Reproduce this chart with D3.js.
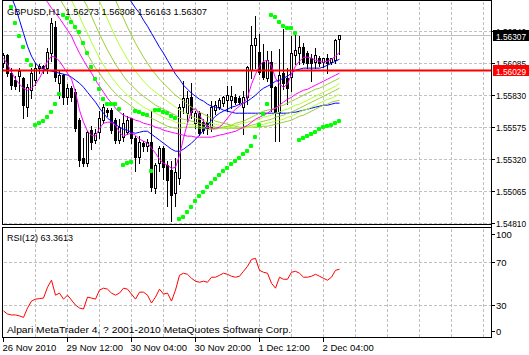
<!DOCTYPE html>
<html>
<head>
<meta charset="utf-8">
<script src="https://cdn.jsdelivr.net/npm/d3@7"></script>
<style>
	body { margin: 0; background: #fff; }
	svg { display: block; font-family: "Liberation Sans", Arial, sans-serif; font-size: 9.5px; }
	.grid { stroke: #c0c0c0; stroke-dasharray: 3,2; shape-rendering: crispEdges; }
	.frame { fill: none; stroke: #000; shape-rendering: crispEdges; }
	.ma { fill: none; stroke-width: 1; }
</style>
</head>
<body>
<div id="chart"></div>
<script>
(function () {'use strict';

var symbol = 'GBPUSD,H1';
var lastOHLC = [1.56273, 1.56308, 1.56163, 1.56307];
var bidPrice = 1.56307;
var levelPrice = 1.56029;
var rsiCaption = 'RSI(12) 63.3613';
var copyright = 'Alpari MetaTrader 4, ? 2001-2010 MetaQuotes Software Corp.';

var timeLabels = ['26 Nov 2010', '29 Nov 12:00', '30 Nov 04:00', '30 Nov 20:00', '1 Dec 12:00', '2 Dec 04:00'];
var priceTicks = [1.56340, 1.56085, 1.55830, 1.55575, 1.55320, 1.55065, 1.54810];
var rsiTicks = [100, 70, 30, 0];
var rsiLevels = [70, 30];

var opens = [1.56087, 1.56151, 1.56008, 1.55952, 1.55984, 1.55968, 1.55737, 1.55872, 1.55952, 1.56048,
	1.56064, 1.56048, 1.56167, 1.56374, 1.55928, 1.55992, 1.55817, 1.55888, 1.55856, 1.55633,
	1.55330, 1.55290, 1.55553, 1.55474, 1.55538, 1.55633, 1.55713, 1.55713, 1.55633, 1.55474,
	1.55498, 1.55538, 1.55649, 1.55490, 1.55338, 1.55450, 1.55426, 1.55458, 1.55091, 1.55290,
	1.55410, 1.55275, 1.55235, 1.55051, 1.55171, 1.55737, 1.55689, 1.55817, 1.55609, 1.55689,
	1.55617, 1.55617, 1.55577, 1.55713, 1.55737, 1.55769, 1.55793, 1.55793, 1.55817, 1.55808,
	1.55737, 1.55817, 1.56032, 1.56231, 1.56175, 1.56095, 1.55968, 1.56095, 1.55896, 1.55697,
	1.56008, 1.55968, 1.55976, 1.56151, 1.56167, 1.56215, 1.56167, 1.56127, 1.56095, 1.56127,
	1.56095, 1.56127, 1.56095, 1.56111, 1.56273];
var highs = [1.56175, 1.56167, 1.56056, 1.55992, 1.56056, 1.55984, 1.55928, 1.56056, 1.56095, 1.56087,
	1.56080, 1.56215, 1.56454, 1.56430, 1.56032, 1.56008, 1.55928, 1.55912, 1.55888, 1.55657,
	1.55498, 1.55553, 1.55593, 1.55569, 1.55713, 1.55769, 1.55737, 1.55737, 1.55657, 1.55649,
	1.55697, 1.55673, 1.55657, 1.55514, 1.55514, 1.55474, 1.55490, 1.55713, 1.55298, 1.55434,
	1.55434, 1.55314, 1.55314, 1.55338, 1.55769, 1.55952, 1.55872, 1.55936, 1.55713, 1.55713,
	1.55649, 1.55689, 1.55793, 1.55793, 1.55817, 1.55832, 1.55912, 1.55912, 1.55848, 1.55832,
	1.55872, 1.56072, 1.56390, 1.56470, 1.56326, 1.56247, 1.56191, 1.56191, 1.55912, 1.56207,
	1.56366, 1.56056, 1.56311, 1.56326, 1.56311, 1.56255, 1.56191, 1.56167, 1.56215, 1.56151,
	1.56135, 1.56167, 1.56135, 1.56287, 1.56308];
var lows = [1.56064, 1.55992, 1.55888, 1.55888, 1.55872, 1.55657, 1.55673, 1.55817, 1.55920, 1.56016,
	1.56016, 1.56016, 1.56111, 1.55952, 1.55817, 1.55769, 1.55769, 1.55793, 1.55553, 1.55275,
	1.55275, 1.55275, 1.55410, 1.55458, 1.55498, 1.55617, 1.55673, 1.55538, 1.55458, 1.55458,
	1.55474, 1.55530, 1.55458, 1.55235, 1.55298, 1.55394, 1.55394, 1.55075, 1.55059, 1.55235,
	1.55171, 1.54956, 1.54836, 1.54956, 1.55131, 1.55697, 1.55633, 1.55657, 1.55577, 1.55522,
	1.55538, 1.55530, 1.55553, 1.55689, 1.55729, 1.55753, 1.55713, 1.55737, 1.55769, 1.55769,
	1.55530, 1.55769, 1.55976, 1.56056, 1.56008, 1.55968, 1.55952, 1.55713, 1.55474, 1.55474,
	1.55888, 1.55769, 1.55872, 1.56087, 1.56087, 1.56087, 1.56056, 1.55952, 1.56056, 1.56072,
	1.56064, 1.56016, 1.56087, 1.56095, 1.56163];
var closes = [1.56151, 1.56008, 1.55912, 1.55904, 1.56024, 1.55753, 1.55896, 1.56008, 1.56048, 1.56064,
	1.56048, 1.56175, 1.56406, 1.55976, 1.55992, 1.55817, 1.55888, 1.55817, 1.55569, 1.55314,
	1.55290, 1.55538, 1.55458, 1.55530, 1.55649, 1.55737, 1.55697, 1.55553, 1.55474, 1.55577,
	1.55609, 1.55633, 1.55490, 1.55338, 1.55458, 1.55426, 1.55458, 1.55099, 1.55275, 1.55410,
	1.55259, 1.55155, 1.55035, 1.55219, 1.55737, 1.55808, 1.55808, 1.55697, 1.55689, 1.55530,
	1.55553, 1.55569, 1.55737, 1.55753, 1.55793, 1.55817, 1.55832, 1.55824, 1.55777, 1.55777,
	1.55817, 1.56056, 1.56231, 1.56287, 1.56016, 1.55976, 1.56111, 1.55896, 1.55697, 1.55992,
	1.55928, 1.55888, 1.56167, 1.56191, 1.56215, 1.56095, 1.56087, 1.56087, 1.56151, 1.56087,
	1.56127, 1.56087, 1.56127, 1.56271, 1.56307];

// Parabolic SAR, null where the dot is off the window
var sar = [null, null, 1.56534, 1.56406, 1.56303, 1.56215, 1.56111, 1.56072, 1.55593, 1.55609,
	1.55625, 1.55657, 1.55697, 1.55761, 1.55840, 1.56470, 1.56446, 1.56414, 1.56374, 1.56335,
	1.56247, 1.56167, 1.56056, 1.55960, 1.55880, 1.55801, 1.55761, 1.55761, 1.55761, 1.55721,
	1.55275, 1.55290, 1.55298, 1.55705, 1.55697, 1.55681, 1.55673, 1.55227, 1.55713, 1.55713,
	1.55697, 1.55689, 1.55665, 1.55649, 1.54844, 1.54860, 1.54900, 1.54940, 1.54988, 1.55027,
	1.55059, 1.55099, 1.55131, 1.55163, 1.55195, 1.55227, 1.55251, 1.55283, 1.55306, 1.55330,
	1.55362, 1.55386, 1.55426, 1.55498, 1.55593, 1.55681, 1.55761, 1.56470, 1.56454, 1.56414,
	1.56382, 1.56366, 1.56366, 1.56326, 1.55474, 1.55490, 1.55506, 1.55522, 1.55538, 1.55561,
	1.55577, 1.55585, 1.55593, 1.55609, 1.55625];

var rsi = [24.5, 21.7, 20.8, 20.8, 19.9, 18.5, 27.2, 33.7, 35.5, 36,
	36.5, 46.6, 53.1, 39.2, 41.1, 35.5, 39.2, 34.6, 30, 27.2,
	26.3, 37.4, 36.5, 35.5, 43.9, 45.7, 44.8, 41.1, 39.2, 41.1,
	45.7, 44.8, 40.2, 35.5, 42, 42, 39.2, 31.9, 37.4, 44.8,
	40.2, 41.1, 33.7, 43.9, 57.7, 59.6, 58.6, 54.9, 52.2, 51.2,
	52.2, 51.2, 55.9, 55.9, 57.7, 59.6, 58.6, 56.8, 55.9, 56.8,
	61.4, 66, 72.5, 73.4, 62.3, 60.5, 59.6, 50.3, 45.7, 55.9,
	54, 54, 60.5, 61.4, 59.6, 55.9, 55.9, 56.8, 58.6, 56.8,
	54.9, 53.1, 55.9, 62.3, 63.36];

// moving averages; each list starts at the bar given by its first argument
var maMagentaFast = after(0, [1.56127, 1.56079, 1.56016, 1.55960, 1.55920, 1.55888, 1.55872, 1.55888, 1.55920, 1.55968,
	1.56032, 1.56103, 1.56143, 1.56135, 1.56103, 1.56056, 1.56008, 1.55960, 1.55856, 1.55713,
	1.55617, 1.55545, 1.55514, 1.55506, 1.55569, 1.55609, 1.55617, 1.55617, 1.55593, 1.55537,
	1.55506, 1.55521, 1.55529, 1.55514, 1.55482, 1.55466, 1.55450, 1.55410, 1.55370, 1.55322,
	1.55290, 1.55274, 1.55250, 1.55258, 1.55354, 1.55490, 1.55609, 1.55705, 1.55729, 1.55673,
	1.55625, 1.55577, 1.55569, 1.55569, 1.55577, 1.55609, 1.55649, 1.55689, 1.55721, 1.55745,
	1.55769, 1.55816, 1.55920, 1.56000, 1.56064, 1.56103, 1.56111, 1.56064, 1.55968, 1.55920,
	1.55896, 1.55920, 1.56000, 1.56064, 1.56103, 1.56135, 1.56135, 1.56127, 1.56111, 1.56103,
	1.56095, 1.56103, 1.56119, 1.56143, 1.56175]);
var maMagentaSlow = after(10, [1.56613, 1.56574, 1.56526, 1.56486, 1.56446, 1.56398, 1.56350, 1.56303, 1.56231, 1.56167,
	1.56111, 1.56056, 1.56008, 1.55952, 1.55904, 1.55856, 1.55808, 1.55769, 1.55729, 1.55697,
	1.55673, 1.55657, 1.55649, 1.55633, 1.55625, 1.55609, 1.55601, 1.55593, 1.55577, 1.55569,
	1.55553, 1.55545, 1.55537, 1.55529, 1.55521, 1.55514, 1.55506, 1.55506, 1.55498, 1.55498,
	1.55498, 1.55498, 1.55498, 1.55506, 1.55514, 1.55521, 1.55529, 1.55537, 1.55545, 1.55561,
	1.55577, 1.55593, 1.55617, 1.55641, 1.55657, 1.55673, 1.55689, 1.55713, 1.55729, 1.55753,
	1.55777, 1.55800, 1.55816, 1.55840, 1.55856, 1.55872, 1.55880, 1.55896, 1.55912, 1.55928,
	1.55944, 1.55960, 1.55976, 1.55992, 1.56008]);
var maBlueFast = after(2, [1.56613, 1.56534, 1.56430, 1.56326, 1.56223, 1.56143, 1.56087, 1.56056,
	1.56040, 1.56032, 1.56024, 1.56016, 1.56008, 1.56000, 1.55992, 1.55976, 1.55952, 1.55928,
	1.55896, 1.55856, 1.55816, 1.55777, 1.55729, 1.55689, 1.55649, 1.55625, 1.55601, 1.55577,
	1.55561, 1.55553, 1.55537, 1.55529, 1.55537, 1.55545, 1.55545, 1.55521, 1.55498, 1.55474,
	1.55450, 1.55426, 1.55402, 1.55386, 1.55386, 1.55402, 1.55426, 1.55450, 1.55482, 1.55514,
	1.55553, 1.55593, 1.55633, 1.55665, 1.55689, 1.55705, 1.55721, 1.55737, 1.55745, 1.55761,
	1.55769, 1.55785, 1.55808, 1.55832, 1.55864, 1.55888, 1.55904, 1.55920, 1.55944, 1.55952,
	1.55968, 1.55984, 1.56008, 1.56032, 1.56040, 1.56048, 1.56048, 1.56048, 1.56048, 1.56048,
	1.56056, 1.56072, 1.56087, 1.56103, 1.56119]);
var maBlueSlow = after(31, [1.56621, 1.56574, 1.56526, 1.56486, 1.56430, 1.56382, 1.56326, 1.56271, 1.56215,
	1.56167, 1.56111, 1.56056, 1.56000, 1.55960, 1.55912, 1.55880, 1.55848, 1.55824, 1.55800,
	1.55785, 1.55761, 1.55745, 1.55737, 1.55729, 1.55713, 1.55705, 1.55697, 1.55689, 1.55689,
	1.55689, 1.55689, 1.55689, 1.55689, 1.55689, 1.55689, 1.55689, 1.55689, 1.55689, 1.55689,
	1.55689, 1.55689, 1.55697, 1.55697, 1.55705, 1.55713, 1.55721, 1.55729, 1.55737, 1.55745,
	1.55753, 1.55753, 1.55761, 1.55769, 1.55769]);
var maGreen1 = after(14, [1.56605, 1.56550, 1.56494, 1.56430, 1.56366, 1.56303,
	1.56231, 1.56159, 1.56103, 1.56048, 1.56008, 1.55960, 1.55920, 1.55880, 1.55848, 1.55816,
	1.55792, 1.55769, 1.55745, 1.55721, 1.55705, 1.55689, 1.55665, 1.55649, 1.55633, 1.55617,
	1.55601, 1.55585, 1.55577, 1.55569, 1.55569, 1.55577, 1.55577, 1.55577, 1.55577, 1.55569,
	1.55569, 1.55561, 1.55561, 1.55561, 1.55569, 1.55577, 1.55585, 1.55593, 1.55609, 1.55617,
	1.55625, 1.55641, 1.55657, 1.55673, 1.55689, 1.55705, 1.55713, 1.55721, 1.55729, 1.55745,
	1.55753, 1.55769, 1.55785, 1.55800, 1.55816, 1.55832, 1.55848, 1.55864, 1.55880, 1.55888,
	1.55904, 1.55920, 1.55936, 1.55952, 1.55968]);
var maGreen2 = after(17, [1.56589, 1.56526, 1.56462,
	1.56390, 1.56326, 1.56255, 1.56191, 1.56127, 1.56072, 1.56024, 1.55976, 1.55936, 1.55896,
	1.55864, 1.55832, 1.55808, 1.55785, 1.55761, 1.55737, 1.55721, 1.55705, 1.55689, 1.55673,
	1.55657, 1.55641, 1.55633, 1.55617, 1.55609, 1.55609, 1.55601, 1.55601, 1.55593, 1.55585,
	1.55577, 1.55577, 1.55569, 1.55569, 1.55569, 1.55569, 1.55577, 1.55585, 1.55593, 1.55601,
	1.55609, 1.55617, 1.55625, 1.55633, 1.55641, 1.55657, 1.55665, 1.55673, 1.55689, 1.55697,
	1.55713, 1.55721, 1.55737, 1.55753, 1.55761, 1.55777, 1.55792, 1.55808, 1.55824, 1.55840,
	1.55856, 1.55872, 1.55888, 1.55904, 1.55928]);
var maGreen3 = after(20, [1.56597, 1.56534, 1.56462, 1.56390, 1.56319, 1.56255, 1.56191, 1.56135, 1.56079, 1.56032,
	1.55984, 1.55944, 1.55912, 1.55880, 1.55848, 1.55824, 1.55800, 1.55777, 1.55753, 1.55737,
	1.55721, 1.55705, 1.55689, 1.55673, 1.55649, 1.55641, 1.55633, 1.55625, 1.55617, 1.55609,
	1.55601, 1.55593, 1.55585, 1.55577, 1.55577, 1.55569, 1.55569, 1.55569, 1.55569, 1.55569,
	1.55577, 1.55585, 1.55593, 1.55601, 1.55617, 1.55625, 1.55633, 1.55641, 1.55657, 1.55665,
	1.55673, 1.55689, 1.55697, 1.55713, 1.55729, 1.55745, 1.55761, 1.55777, 1.55792, 1.55808,
	1.55824, 1.55840, 1.55856, 1.55872, 1.55888]);
var maGreen4 = after(23, [1.56629, 1.56582, 1.56510, 1.56438, 1.56366, 1.56295, 1.56231,
	1.56175, 1.56119, 1.56072, 1.56024, 1.55984, 1.55944, 1.55912, 1.55880, 1.55856, 1.55832,
	1.55808, 1.55785, 1.55761, 1.55737, 1.55713, 1.55697, 1.55681, 1.55665, 1.55649, 1.55641,
	1.55633, 1.55617, 1.55609, 1.55601, 1.55593, 1.55585, 1.55577, 1.55577, 1.55569, 1.55569,
	1.55569, 1.55577, 1.55577, 1.55585, 1.55593, 1.55601, 1.55609, 1.55617, 1.55625, 1.55633,
	1.55641, 1.55657, 1.55665, 1.55681, 1.55697, 1.55713, 1.55721, 1.55737, 1.55753, 1.55769,
	1.55785, 1.55800, 1.55808, 1.55824, 1.55840]);
var maGreen5 = after(27, [1.56637, 1.56589, 1.56518,
	1.56446, 1.56374, 1.56311, 1.56247, 1.56191, 1.56135, 1.56087, 1.56040, 1.56000, 1.55960,
	1.55928, 1.55896, 1.55864, 1.55832, 1.55808, 1.55785, 1.55761, 1.55737, 1.55713, 1.55697,
	1.55681, 1.55665, 1.55649, 1.55625, 1.55617, 1.55609, 1.55601, 1.55593, 1.55585, 1.55577,
	1.55577, 1.55577, 1.55577, 1.55577, 1.55577, 1.55585, 1.55585, 1.55593, 1.55601, 1.55609,
	1.55617, 1.55625, 1.55633, 1.55649, 1.55665, 1.55673, 1.55689, 1.55705, 1.55721, 1.55737,
	1.55753, 1.55761, 1.55777, 1.55785, 1.55792]);

function after(start, values) {
	var out = [];
	for (var k = 0; k < start; k++) out.push(null);
	return out.concat(values);
}

var width = 529, height = 355,
	main = { left: 2.5, right: 491.5, top: 0.5, bottom: 224.5 },
	sub = { top: 227.5, bottom: 337.5 },
	barsInView = 122,
	labelEvery = 16,
	gridEvery = 8;

var x = d3.scaleLinear().domain([0, barsInView]).range([3.5, 491.5]),
	y = d3.scaleLinear().domain([1.54810, 1.56340]).range([223.5, 31.5]),
	yr = d3.scaleLinear().domain([0, 100]).range([337.3, 229.8]);

function crisp(v) { return Math.round(v - 0.5) + 0.5; }

var svg = d3.select('#chart')
	.append('svg')
		.attr('width', width)
		.attr('height', height);

svg.append('rect').attr('width', width).attr('height', height).attr('fill', '#fff');

var defs = svg.append('defs');
defs.append('clipPath').attr('id', 'clipMain')
	.append('rect')
		.attr('x', main.left + 0.5).attr('y', main.top + 0.5)
		.attr('width', main.right - main.left - 1).attr('height', main.bottom - main.top - 1);
defs.append('clipPath').attr('id', 'clipSub')
	.append('rect')
		.attr('x', main.left + 0.5).attr('y', sub.top + 0.5)
		.attr('width', main.right - main.left - 1).attr('height', sub.bottom - sub.top - 1);

/* GRID */
var gridCols = d3.range(gridEvery, barsInView + 1, gridEvery).filter(function (i) { return x(i) < main.right - 2; });

svg.append('g').selectAll('line')
	.data(gridCols)
	.enter().append('line')
		.attr('class', 'grid')
		.attr('x1', function (i) { return x(i); }).attr('x2', function (i) { return x(i); })
		.attr('y1', main.top + 1).attr('y2', main.bottom - 1);

svg.append('g').selectAll('line')
	.data(gridCols)
	.enter().append('line')
		.attr('class', 'grid')
		.attr('x1', function (i) { return x(i); }).attr('x2', function (i) { return x(i); })
		.attr('y1', sub.top + 1).attr('y2', sub.bottom - 1);

svg.append('g').selectAll('line')
	.data(priceTicks)
	.enter().append('line')
		.attr('class', 'grid')
		.attr('x1', main.left + 1).attr('x2', main.right - 1)
		.attr('y1', function (p) { return crisp(y(p)); })
		.attr('y2', function (p) { return crisp(y(p)); });

svg.append('g').selectAll('line')
	.data(rsiLevels)
	.enter().append('line')
		.attr('class', 'grid')
		.attr('x1', main.left + 1).attr('x2', main.right - 1)
		.attr('y1', function (v) { return crisp(yr(v)); })
		.attr('y2', function (v) { return crisp(yr(v)); });

var plot = svg.append('g').attr('clip-path', 'url(#clipMain)');

// bid line
plot.append('line')
	.attr('x1', main.left).attr('x2', main.right)
	.attr('y1', crisp(y(bidPrice))).attr('y2', crisp(y(bidPrice)))
	.attr('stroke', '#c0c0c0')
	.attr('shape-rendering', 'crispEdges');

/* CANDLES */
var bars = d3.range(opens.length);
var candle = plot.append('g').attr('shape-rendering', 'crispEdges')
	.selectAll('g')
	.data(bars)
	.enter().append('g');

candle.append('line')
	.attr('x1', function (i) { return x(i); })
	.attr('x2', function (i) { return x(i); })
	.attr('y1', function (i) { return crisp(y(highs[i])); })
	.attr('y2', function (i) { return crisp(y(lows[i])) + 1; })
	.attr('stroke', '#000');

candle.append('rect')
	.attr('x', function (i) { return x(i) - 1; })
	.attr('width', 2)
	.attr('y', function (i) { return crisp(y(Math.max(opens[i], closes[i]))); })
	.attr('height', function (i) {
		return crisp(y(Math.min(opens[i], closes[i]))) - crisp(y(Math.max(opens[i], closes[i])));
	})
	.attr('fill', function (i) { return closes[i] >= opens[i] ? '#fff' : '#000'; })
	.attr('stroke', '#000');

/* MOVING AVERAGES */
var maLines = [
	{ values: maBlueSlow, color: '#0000ff' },
	{ values: maGreen5, color: '#9acd32' },
	{ values: maGreen4, color: '#adff2f' },
	{ values: maGreen3, color: '#9acd32' },
	{ values: maGreen2, color: '#adff2f' },
	{ values: maGreen1, color: '#9acd32' },
	{ values: maBlueFast, color: '#0000ff' },
	{ values: maMagentaSlow, color: '#ff00ff' },
	{ values: maMagentaFast, color: '#ff00ff' }
];

var maPath = d3.line()
	.defined(function (d) { return d !== null; })
	.x(function (d, i) { return x(i); })
	.y(function (d) { return y(d); });

plot.append('g').selectAll('path')
	.data(maLines)
	.enter().append('path')
		.attr('class', 'ma')
		.attr('stroke', function (d) { return d.color; })
		.attr('d', function (d) { return maPath(d.values); });

/* PARABOLIC SAR */
plot.append('g').selectAll('rect')
	.data(bars.filter(function (i) { return sar[i] !== null; }))
	.enter().append('rect')
		.attr('x', function (i) { return x(i) - 2.5; })
		.attr('y', function (i) { return Math.round(y(sar[i])) - 2; })
		.attr('width', 4).attr('height', 4)
		.attr('rx', 1)
		.attr('fill', '#00ff00');

// horizontal level
plot.append('line')
	.attr('x1', main.left).attr('x2', main.right)
	.attr('y1', y(levelPrice)).attr('y2', y(levelPrice))
	.attr('stroke', '#ff0000')
	.attr('stroke-width', 2);

/* RSI */
svg.append('g').attr('clip-path', 'url(#clipSub)')
	.append('path')
		.attr('fill', 'none')
		.attr('stroke', '#ff0000')
		.attr('d', d3.line()
			.x(function (d, i) { return x(i); })
			.y(function (d) { return yr(d); })(rsi));

/* FRAMES AND AXES */
svg.append('rect').attr('class', 'frame')
	.attr('x', main.left).attr('y', main.top)
	.attr('width', main.right - main.left).attr('height', main.bottom - main.top);
svg.append('rect').attr('class', 'frame')
	.attr('x', main.left).attr('y', sub.top)
	.attr('width', main.right - main.left).attr('height', sub.bottom - sub.top);
svg.append('line').attr('class', 'frame')
	.attr('x1', main.right).attr('x2', main.right)
	.attr('y1', 0).attr('y2', sub.bottom);

// price axis
var priceAxis = svg.append('g');
priceAxis.selectAll('line')
	.data(priceTicks)
	.enter().append('line').attr('class', 'frame')
		.attr('x1', main.right).attr('x2', main.right + 3)
		.attr('y1', function (p) { return crisp(y(p)); })
		.attr('y2', function (p) { return crisp(y(p)); });
priceAxis.selectAll('text')
	.data(priceTicks)
	.enter().append('text')
		.attr('x', 496)
		.attr('y', function (p) { return y(p) + 3.5; })
		.attr('textLength', 30)
		.attr('lengthAdjust', 'spacingAndGlyphs')
		.text(function (p) { return p.toFixed(5); });

// current price and level boxes
function priceBox(price, fill) {
	var cy = Math.round(y(price));
	svg.append('rect')
		.attr('x', 493).attr('y', cy - 6)
		.attr('width', 36).attr('height', 11)
		.attr('fill', fill);
	svg.append('text')
		.attr('x', 496).attr('y', cy + 3.5)
		.attr('fill', '#fff')
		.attr('textLength', 30)
		.attr('lengthAdjust', 'spacingAndGlyphs')
		.text(price.toFixed(5));
}
priceBox(bidPrice, '#000');
priceBox(levelPrice, '#ff0000');

// rsi axis
var rsiLabelY = function (v) {
	return Math.min(Math.max(yr(v), sub.top + 6.5), sub.bottom - 6.5);
};
var rsiAxis = svg.append('g');
rsiAxis.selectAll('line')
	.data(rsiTicks)
	.enter().append('line').attr('class', 'frame')
		.attr('x1', main.right).attr('x2', main.right + 3)
		.attr('y1', function (v) { return crisp(rsiLabelY(v)); })
		.attr('y2', function (v) { return crisp(rsiLabelY(v)); });
rsiAxis.selectAll('text')
	.data(rsiTicks)
	.enter().append('text')
		.attr('x', 496)
		.attr('y', function (v) { return rsiLabelY(v) + 3.5; })
		.text(function (v) { return v; });

// time axis
var timeAxis = svg.append('g');
timeAxis.selectAll('line')
	.data(timeLabels)
	.enter().append('line').attr('class', 'frame')
		.attr('x1', function (d, k) { return x(k * labelEvery); })
		.attr('x2', function (d, k) { return x(k * labelEvery); })
		.attr('y1', sub.bottom).attr('y2', sub.bottom + 4);
timeAxis.selectAll('text')
	.data(timeLabels)
	.enter().append('text')
		.attr('x', function (d, k) { return x(k * labelEvery) - 1; })
		.attr('y', 351)
		.text(function (d) { return d; });

/* TEXTS */
svg.append('text')
	.attr('x', 7).attr('y', 15)
	.attr('xml:space', 'preserve')
	.attr('textLength', 200)
	.attr('lengthAdjust', 'spacingAndGlyphs')
	.text(symbol + '  ' + lastOHLC.map(function (v) { return v.toFixed(5); }).join(' '));
svg.append('text')
	.attr('x', 7).attr('y', 241)
	.attr('textLength', 66)
	.attr('lengthAdjust', 'spacingAndGlyphs')
	.text(rsiCaption);
svg.append('text')
	.attr('x', 7).attr('y', 333)
	.attr('textLength', 284)
	.attr('lengthAdjust', 'spacingAndGlyphs')
	.text(copyright);

})();
</script>
</body>
</html>
